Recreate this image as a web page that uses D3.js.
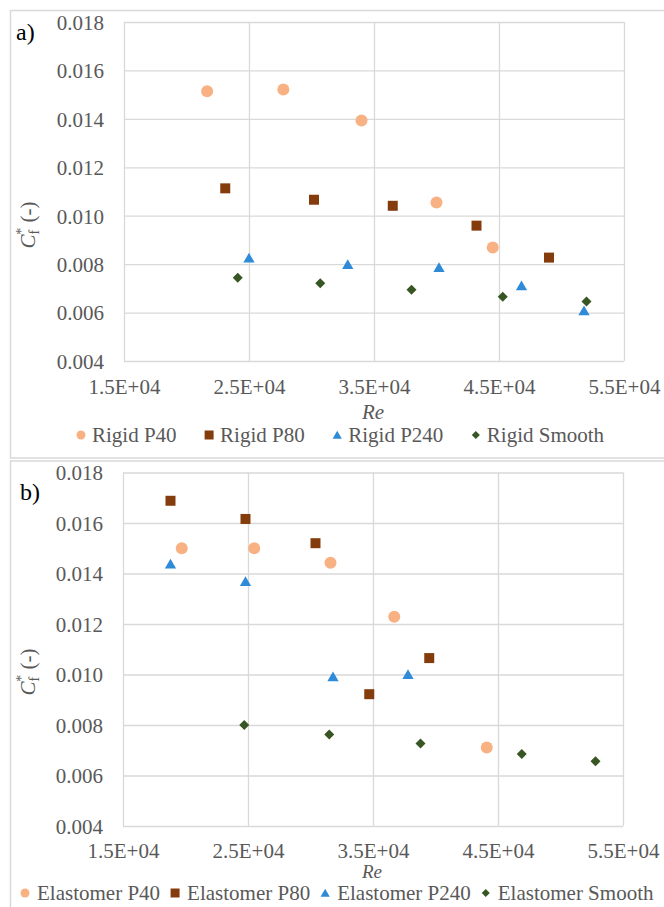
<!DOCTYPE html>
<html>
<head>
<meta charset="utf-8">
<script src="https://cdn.jsdelivr.net/npm/d3@7"></script>
<style>
  html, body { margin: 0; padding: 0; background: #fff; }
  svg { display: block; }
</style>
</head>
<body>
<svg id="chart" width="664" height="907"></svg>
<script>
// ---------- Data ----------
const xTicks = [15000, 25000, 35000, 45000, 55000];
const xTickLabels = ["1.5E+04", "2.5E+04", "3.5E+04", "4.5E+04", "5.5E+04"];
const yTicks = [0.004, 0.006, 0.008, 0.010, 0.012, 0.014, 0.016, 0.018];
const yTickLabels = ["0.004", "0.006", "0.008", "0.010", "0.012", "0.014", "0.016", "0.018"];

// Panel a) rigid
const rigidP40Re = [21650, 27750, 34000, 40000, 44500];
const rigidP40Cf = [0.01514, 0.01521, 0.01393, 0.01055, 0.00869];
const rigidP80Re = [23100, 30200, 36500, 43200, 49000];
const rigidP80Cf = [0.01113, 0.01066, 0.01041, 0.00959, 0.00827];
const rigidP240Re = [25000, 32900, 40200, 46800, 51800];
const rigidP240Cf = [0.00824, 0.00797, 0.00785, 0.00710, 0.00606];
const rigidSmoothRe = [24100, 30700, 38000, 45300, 52000];
const rigidSmoothCf = [0.00744, 0.00721, 0.00694, 0.00665, 0.00646];

// Panel b) elastomer
const elastP40Re = [19700, 25500, 31600, 36700, 44100];
const elastP40Cf = [0.01500, 0.01500, 0.01443, 0.01229, 0.00711];
const elastP80Re = [18800, 24800, 30400, 34700, 39500];
const elastP80Cf = [0.01688, 0.01616, 0.01520, 0.00922, 0.01065];
const elastP240Re = [18800, 24800, 31800, 37800];
const elastP240Cf = [0.01437, 0.01367, 0.00990, 0.00999];
const elastSmoothRe = [24700, 31500, 38800, 46900, 52800];
const elastSmoothCf = [0.00800, 0.00762, 0.00727, 0.00685, 0.00656];

const seriesNamesA = ["Rigid P40", "Rigid P80", "Rigid P240", "Rigid Smooth"];
const seriesNamesB = ["Elastomer P40", "Elastomer P80", "Elastomer P240", "Elastomer Smooth"];
const seriesColors = ["#F8B183", "#843C0C", "#2F8BD8", "#375623"];
const seriesShapes = ["circle", "square", "triangle", "diamond"];

// ---------- Helpers ----------
const svg = d3.select("#chart");
const gridColor = "#d9d9d9";
const textColor = "#595959";
const FONT = 21;
const FAMILY = '"Liberation Serif"';

function styleText(sel) {
  return sel.style("font-family", FAMILY).style("fill", textColor);
}

function symbolPath(shape, s) {
  if (shape === "circle") return d3.symbol(d3.symbolCircle, Math.PI * (s / 2) * (s / 2))();
  if (shape === "square") return d3.symbol(d3.symbolSquare, s * s)();
  if (shape === "triangle") return d3.symbol(d3.symbolTriangle, Math.sqrt(3) / 4 * s * s * 1.05)();
  return d3.symbol(d3.symbolSquare, (s * s) / 2)();
}
function symbolTransform(shape, x, y) {
  if (shape === "diamond") return `translate(${x},${y}) rotate(45)`;
  if (shape === "triangle") return `translate(${x},${y + 1})`;
  return `translate(${x},${y})`;
}
const markerSizes = { circle: 12, square: 10, triangle: 11, diamond: 10 };

function drawPanel(cfg) {
  const g = svg.append("g");
  g.append("rect")
    .attr("x", cfg.frame[0]).attr("y", cfg.frame[1])
    .attr("width", cfg.frame[2]).attr("height", cfg.frame[3])
    .attr("fill", "none").attr("stroke", gridColor).attr("stroke-width", 1.5);

  const x = d3.scaleLinear().domain([15000, 55000]).range([cfg.left, cfg.right]);
  const y = d3.scaleLinear().domain([0.004, 0.018]).range([cfg.bottom, cfg.top]);

  const gy = g.append("g").attr("transform", `translate(${cfg.left},0)`)
    .call(d3.axisLeft(y).tickValues(yTicks).tickSize(-(cfg.right - cfg.left)).tickFormat((d, i) => yTickLabels[i]).tickPadding(20));
  gy.select(".domain").remove();
  gy.selectAll("line").attr("stroke", gridColor).attr("stroke-width", 1.3);
  styleText(gy.selectAll("text")).attr("font-size", FONT).attr("dy", "0.35em");

  const gx = g.append("g").attr("transform", `translate(0,${cfg.bottom})`)
    .call(d3.axisBottom(x).tickValues(xTicks).tickSize(-(cfg.bottom - cfg.top)).tickFormat((d, i) => xTickLabels[i]).tickPadding(0));
  gx.select(".domain").remove();
  gx.selectAll("line").attr("stroke", gridColor).attr("stroke-width", 1.3);
  styleText(gx.selectAll("text")).attr("font-size", FONT)
    .attr("y", cfg.xLabelOffset).attr("dy", "0.35em");

  cfg.series.forEach((s, si) => {
    const shape = seriesShapes[si];
    const data = s.re.map((r, i) => ({ re: r, cf: s.cf[i] }));
    g.append("g").selectAll("path").data(data).join("path")
      .attr("d", symbolPath(shape, markerSizes[shape]))
      .attr("transform", d => symbolTransform(shape, x(d.re), y(d.cf)))
      .attr("fill", seriesColors[si]);
  });

  g.append("text").attr("x", cfg.tag[0]).attr("y", cfg.tag[1]).attr("dy", "0.35em")
    .attr("font-size", 24).style("font-family", FAMILY).style("fill", "#000").text(cfg.tagText);

  const yt = styleText(g.append("text"))
    .attr("transform", `translate(${cfg.yTitle[0]},${cfg.yTitle[1]}) rotate(-90)`)
    .attr("text-anchor", "middle").attr("font-size", FONT);
  yt.append("tspan").attr("font-style", "italic").text("C");
  yt.append("tspan").attr("font-size", 14).attr("dy", 4).text("f");
  yt.append("tspan").attr("font-size", 14).attr("dy", -13).attr("dx", -5).text("*");
  yt.append("tspan").attr("dy", 9).text(" (-)");

  styleText(g.append("text")).attr("x", (cfg.left + cfg.right) / 2 - 1).attr("y", cfg.reY).attr("dy", "0.35em")
    .attr("text-anchor", "middle").attr("font-size", cfg.reFont).attr("font-style", "italic").text("Re");

  const lg = g.append("g");
  let cx = cfg.legStart;
  cfg.names.forEach((n, i) => {
    const it = lg.append("g");
    const shape = seriesShapes[i];
    const ls = { circle: 9, square: 9, triangle: 9, diamond: 8 }[shape];
    it.append("path").attr("d", symbolPath(shape, ls))
      .attr("transform", symbolTransform(shape, 0, 0)).attr("fill", seriesColors[i]);
    const t = styleText(it.append("text")).attr("x", cfg.legMarkGap).attr("y", 0).attr("dy", "0.35em")
      .attr("font-size", FONT).text(n);
    it.attr("transform", `translate(${cx},${cfg.legY})`);
    cx += cfg.legMarkGap + t.node().getComputedTextLength() + cfg.legItemGap;
  });
}

drawPanel({
  frame: [10.5, 10.5, 700, 447.5],
  left: 124, right: 624, top: 22, bottom: 361,
  xLabelOffset: 26, reY: 412, reFont: 21, legY: 435,
  tag: [16, 32], tagText: "a)",
  yTitle: [35, 225],
  names: seriesNamesA,
  legStart: 81, legMarkGap: 11, legItemGap: 32.5,
  series: [
    { re: rigidP40Re, cf: rigidP40Cf },
    { re: rigidP80Re, cf: rigidP80Cf },
    { re: rigidP240Re, cf: rigidP240Cf },
    { re: rigidSmoothRe, cf: rigidSmoothCf }
  ]
});

drawPanel({
  frame: [10.5, 461, 700, 500],
  left: 123, right: 623, top: 472.5, bottom: 826,
  xLabelOffset: 25, reY: 871.5, reFont: 19, legY: 893,
  tag: [20, 492], tagText: "b)",
  yTitle: [35, 672],
  names: seriesNamesB,
  legStart: 25, legMarkGap: 12, legItemGap: 15,
  series: [
    { re: elastP40Re, cf: elastP40Cf },
    { re: elastP80Re, cf: elastP80Cf },
    { re: elastP240Re, cf: elastP240Cf },
    { re: elastSmoothRe, cf: elastSmoothCf }
  ]
});
</script>
</body>
</html>
